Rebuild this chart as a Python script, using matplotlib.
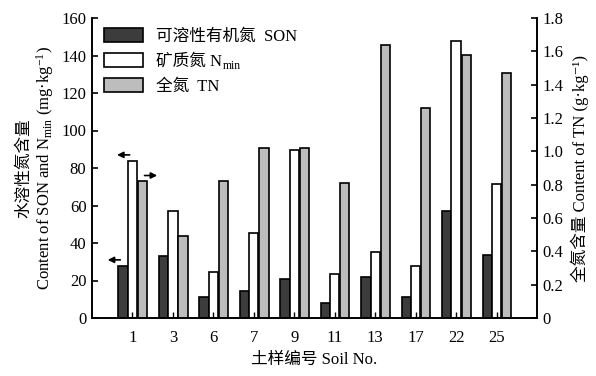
import matplotlib
matplotlib.use("Agg")
import matplotlib.pyplot as plt
import numpy as np

plt.rcParams['font.family'] = ['Liberation Serif', 'Noto Sans CJK SC', 'DejaVu Serif']
plt.rcParams['mathtext.fontset'] = 'custom'
plt.rcParams['mathtext.rm'] = 'Liberation Serif'
plt.rcParams['mathtext.it'] = 'Liberation Serif'

soil_no = ['1', '3', '6', '7', '9', '11', '13', '17', '22', '25']
son = [28, 33, 11, 14.6, 21, 8.2, 22, 11, 57, 33.6]
nmin = [84, 57, 24.5, 45.5, 89.5, 23.3, 35, 27.5, 148, 71.5]
tn = [0.82, 0.49, 0.82, 1.02, 1.02, 0.81, 1.64, 1.26, 1.58, 1.47]

fig = plt.figure(figsize=(5.96, 3.76), dpi=100)
ax = fig.add_axes([92/596, 1-318/376, (537-92)/596, 300/376])
ax2 = ax.twinx()

x = np.arange(1, len(soil_no) + 1)
w = 0.23
b1 = ax.bar(x - w, son, w, color='#3c3c3c', edgecolor='black', linewidth=1.2, label='可溶性有机氮  SON')
b2 = ax.bar(x, nmin, w, color='white', edgecolor='black', linewidth=1.2, label='矿质氮 N')
b3 = ax2.bar(x + w + 0.02, tn, w, color='#bdbdbd', edgecolor='black', linewidth=1.2, label='全氮  TN')

ax.set_xlim(0, 11)
ax.set_ylim(0, 160)
ax2.set_ylim(0, 1.8)
ax.set_xticks(x)
ax.set_xticklabels(soil_no)
ax.set_yticks(np.arange(0, 161, 20))
ax2.set_yticks(np.arange(0, 1.81, 0.2))
ax2.set_yticklabels(['0'] + [f'{v:.1f}' for v in np.arange(0.2, 1.81, 0.2)])

for a in (ax, ax2):
    a.spines['top'].set_visible(False)
    for s in a.spines.values():
        s.set_linewidth(1.2)
ax.tick_params(axis='y', direction='in', length=4, width=1.2, labelsize=12, pad=4)
ax.tick_params(axis='x', direction='in', length=4, width=1.0, labelsize=12, pad=9)
ax2.tick_params(axis='y', direction='in', length=4, width=1.2, labelsize=12, pad=4)

ax.set_ylabel('水溶性氮含量\nContent of SON and N$_{\\mathrm{min}}$ (mg·kg$^{-1}$)', fontsize=12, linespacing=1.1, labelpad=4)
ax2.set_ylabel('全氮含量 Content of TN (g·kg\u207b\u00b9)', fontsize=12, rotation=90, labelpad=5)
ax.set_xlabel('土样编号 Soil No.', fontsize=12, labelpad=4)

handles = [b1, b2, b3]
leg = ax.legend(handles=handles, loc='upper left', bbox_to_anchor=(0.005, 1.0), frameon=False,
                fontsize=12, handlelength=2.3, handleheight=0.9, labelspacing=0.5, borderaxespad=0.2,
                handletextpad=0.8)

# arrows
akw = dict(arrowstyle='-|>', color='black', lw=1.2, mutation_scale=9)
ax.annotate('', xy=(0.55, 87), xytext=(1.0, 87), arrowprops=akw)
ax.annotate('', xy=(1.68, 76), xytext=(1.23, 76), arrowprops=akw)
ax.annotate('', xy=(0.32, 31), xytext=(0.77, 31), arrowprops=akw)

# subscript "min" for legend entry
fig.canvas.draw()
r = fig.canvas.get_renderer()
t = leg.get_texts()[1]
bb = t.get_window_extent(r)
fig.text((bb.x1 + 0.5) / fig.bbox.width, (bb.y0 + 1) / fig.bbox.height, 'min', fontsize=8.5,
         ha='left', va='baseline')

fig.savefig('out.png', dpi=100)
